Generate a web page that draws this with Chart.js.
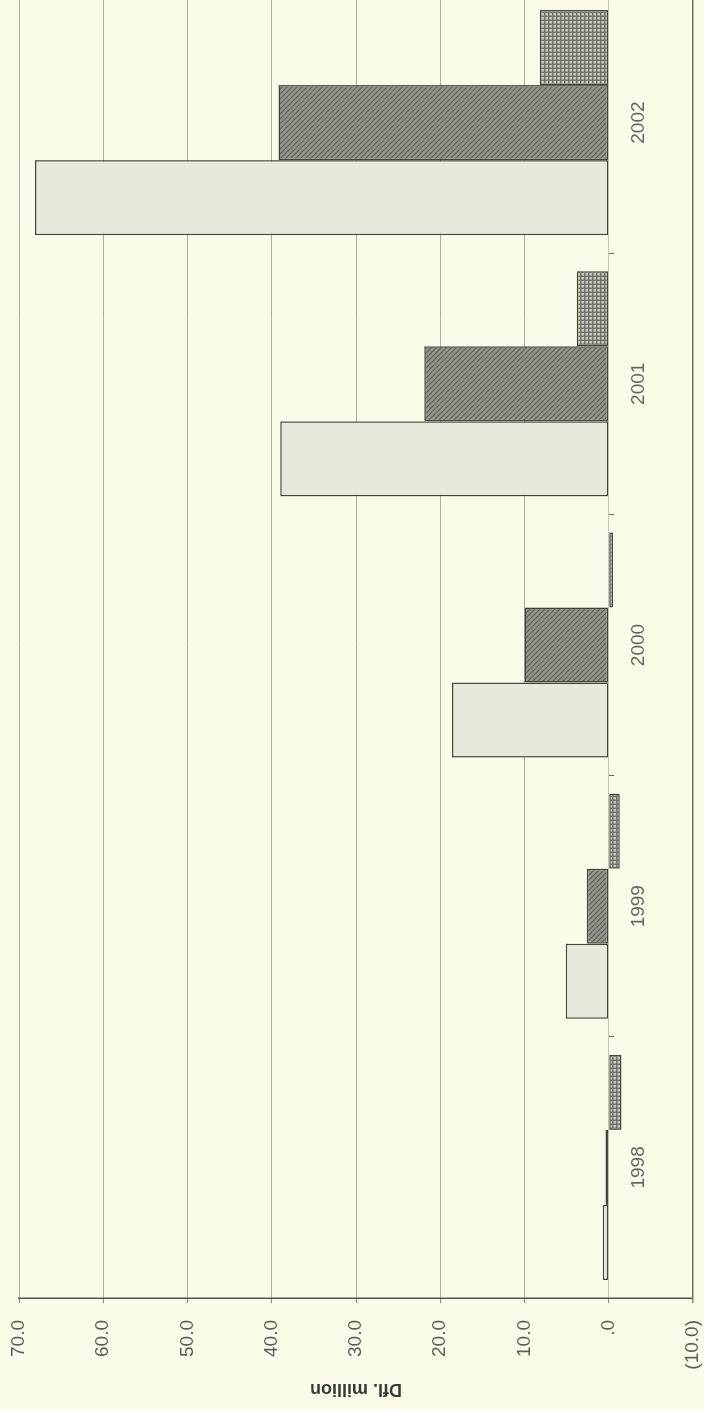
<!DOCTYPE html>
<html>
<head>
<meta charset="utf-8">
<script src="https://cdn.jsdelivr.net/npm/chart.js@4"></script>
<style>
  html, body { margin: 0; padding: 0; width: 704px; height: 1409px; overflow: hidden; background: #fcfbe9; }
  /* the chart is drawn upright and then turned a quarter left, like the scan */
  #wrap { position: absolute; left: 0; top: 0; width: 1440px; height: 704px;
          transform-origin: 0 0; transform: translateY(1409px) rotate(-90deg); }
</style>
</head>
<body>
<div id="wrap"><canvas id="chart" width="1440" height="704"></canvas></div>
<script>
// Data (Dfl. million)
const years = ['1998', '1999', '2000', '2001', '2002'];
const plainBars = [0.7, 5.1, 18.6, 39.0, 68.1];
const hatchedBars = [0.4, 2.6, 10.0, 21.9, 39.2];
const gridBars = [-1.5, -1.3, -0.5, 3.8, 8.2];
const valueMin = -10, valueMax = 70, valueStep = 10;

// Fill patterns for the two shaded series
function makeHatch() {
    const c = document.createElement('canvas');
    c.width = 5; c.height = 5;
    const g = c.getContext('2d');
    g.fillStyle = '#94928a';
    g.fillRect(0, 0, 5, 5);
    g.strokeStyle = '#64635b';
    g.lineWidth = 1.2;
    g.beginPath();
    g.moveTo(-1, -1); g.lineTo(6, 6);
    g.moveTo(-1, 4); g.lineTo(1, 6);
    g.moveTo(4, -1); g.lineTo(6, 1);
    g.stroke();
    return g.createPattern(c, 'repeat');
}

function makeGrid() {
    const c = document.createElement('canvas');
    c.width = 4; c.height = 4;
    const g = c.getContext('2d');
    g.fillStyle = '#c9c8bf';
    g.fillRect(0, 0, 4, 4);
    g.fillStyle = '#74736b';
    g.fillRect(0, 0, 4, 1.5);
    g.fillRect(0, 0, 1.5, 4);
    return g.createPattern(c, 'repeat');
}

function tickText(v) {
    if (v === 0) return '.0';
    if (v < 0) return '(' + Math.abs(v).toFixed(1) + ')';
    return v.toFixed(1);
}

const labelFont = { family: 'Liberation Sans', size: 19 };
const edge = '#45453c';

const ctx = document.getElementById('chart').getContext('2d');
new Chart(ctx, {
    type: 'bar',
    data: {
        labels: years,
        datasets: [
            { label: 'A', data: plainBars, backgroundColor: '#e9e8da', borderColor: edge, borderWidth: 1.5, borderSkipped: false },
            { label: 'B', data: hatchedBars, backgroundColor: makeHatch(), borderColor: edge, borderWidth: 1.5, borderSkipped: false },
            { label: 'C', data: gridBars, backgroundColor: makeGrid(), borderColor: edge, borderWidth: 1.5, borderSkipped: false }
        ]
    },
    options: {
        responsive: false,
        animation: false,
        layout: { padding: { left: 0, right: 23, top: 19, bottom: 11 } },
        datasets: { bar: { categoryPercentage: 0.862, barPercentage: 1.0 } },
        plugins: { legend: { display: false }, tooltip: { enabled: false } },
        scales: {
            x: {
                position: { y: 0 },
                afterFit: s => { s.height = 0; },
                grid: { offset: true, drawOnChartArea: false, drawTicks: true, tickLength: 5, tickColor: '#6a695f' },
                border: { display: true, color: '#c9c7b4', width: 1 },
                ticks: { font: labelFont, color: '#66655c', padding: 14 }
            },
            y: {
                min: valueMin,
                max: valueMax,
                afterFit: s => { s.width = 111; s.paddingTop = 0; s.paddingBottom = 0; },
                ticks: { stepSize: valueStep, callback: tickText, font: labelFont, color: '#5e5d55', padding: 17 },
                grid: {
                    color: c => c.tick.value === valueMin ? '#6f6e64' : (c.tick.value === 0 ? '#dcdac8' : '#aeac9b'),
                    lineWidth: c => c.tick.value === valueMin ? 1.5 : 1,
                    tickLength: 5,
                    tickColor: '#8a897e'
                },
                border: { display: true, color: '#55554c', width: 1.5 },
                title: {
                    display: true,
                    text: 'Dfl. million',
                    font: { family: 'Liberation Sans', size: 18, weight: 'bold' },
                    color: '#3a3a34',
                    padding: { top: 9, bottom: 0 }
                }
            }
        }
    }
});
</script>
</body>
</html>
